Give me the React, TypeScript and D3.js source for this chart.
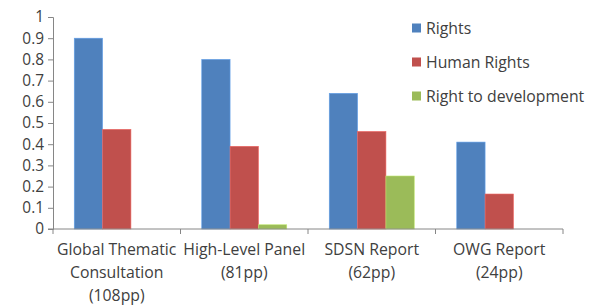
import * as d3 from "d3";
import { useEffect, useRef } from "react";

const categories = [
  ["Global Thematic", "Consultation", "(108pp)"],
  ["High-Level Panel", "(81pp)"],
  ["SDSN Report", "(62pp)"],
  ["OWG Report", "(24pp)"],
];
const seriesNames = ["Rights", "Human Rights", "Right to development"];
const rights = [0.9, 0.8, 0.64, 0.41];
const humanRights = [0.47, 0.39, 0.46, 0.165];
const rightToDev = [0, 0.02, 0.25, 0];
const yTicks = [0, 0.1, 0.2, 0.3, 0.4, 0.5, 0.6, 0.7, 0.8, 0.9, 1];
const colors = ["#4F81BD", "#C0504D", "#9BBB59"];

const W = 589;
const H = 305;
const FONT = "'Open Sans', 'Noto Sans', sans-serif";

export default function App() {
  const ref = useRef<SVGSVGElement | null>(null);

  useEffect(() => {
    const svg = d3.select(ref.current);
    svg.selectAll("*").remove();

    const left = 53;
    const right = 563;
    const top = 17;
    const bottom = 229;

    const x0 = d3.scaleBand<number>().domain(d3.range(categories.length)).range([left, right]).paddingInner(0).paddingOuter(0);
    const x1 = d3
      .scaleBand<number>()
      .domain([0, 1, 2])
      .range([0, x0.bandwidth()])
      .paddingOuter(0.75)
      .paddingInner(0);
    const y = d3.scaleLinear().domain([0, 1]).range([bottom, top]);

    const all = [rights, humanRights, rightToDev];

    // bars
    all.forEach((vals, s) => {
      svg
        .append("g")
        .selectAll("rect")
        .data(vals)
        .join("rect")
        .attr("x", (_, i) => x0(i)! + x1(s)!)
        .attr("y", (d) => y(d))
        .attr("width", x1.bandwidth())
        .attr("height", (d) => bottom - y(d))
        .attr("fill", colors[s])
        .attr("stroke", d3.color(colors[s])!.brighter(0.6).toString())
        .attr("stroke-width", 0.6);
    });

    // y axis
    const yAxis = svg
      .append("g")
      .attr("transform", `translate(${left},0)`)
      .call(d3.axisLeft(y).tickValues(yTicks).tickFormat((d) => String(+d)).tickSize(5).tickPadding(4));
    yAxis.select(".domain").attr("stroke", "#868686");
    yAxis.selectAll("line").attr("stroke", "#868686");
    yAxis
      .selectAll("text")
      .attr("font-family", FONT)
      .attr("font-size", 15.4)
      .attr("fill", "#404040");

    // x axis
    const xAxisG = svg.append("g").attr("transform", `translate(0,${bottom})`);
    xAxisG
      .append("line")
      .attr("x1", left - 5)
      .attr("x2", right)
      .attr("stroke", "#868686");
    xAxisG
      .selectAll("line.tick")
      .data(d3.range(categories.length + 1))
      .join("line")
      .attr("class", "tick")
      .attr("x1", (i) => left + i * x0.bandwidth())
      .attr("x2", (i) => left + i * x0.bandwidth())
      .attr("y1", 0)
      .attr("y2", 5)
      .attr("stroke", "#868686");

    categories.forEach((lines, i) => {
      const t = svg
        .append("text")
        .attr("text-anchor", "middle")
        .attr("font-family", FONT)
        .attr("font-size", 15.8)
        .attr("fill", "#404040");
      lines.forEach((ln, k) => {
        t.append("tspan")
          .attr("x", x0(i)! + x0.bandwidth() / 2)
          .attr("y", 255 + k * 23)
          .text(ln);
      });
    });

    // legend
    const lg = svg.append("g").attr("transform", "translate(412,0)");
    seriesNames.forEach((name, i) => {
      const cy = 28 + i * 34;
      lg.append("rect")
        .attr("x", 0)
        .attr("y", cy - 4.5)
        .attr("width", 9)
        .attr("height", 9)
        .attr("fill", colors[i]);
      lg.append("text")
        .attr("x", 14)
        .attr("y", cy + 5.5)
        .attr("font-family", FONT)
        .attr("font-size", 15.8)
        .attr("fill", "#404040")
        .text(name);
    });
  }, []);

  return <svg ref={ref} width={W} height={H} style={{ display: "block", position: "absolute", left: 0, top: 0 }} />;
}
